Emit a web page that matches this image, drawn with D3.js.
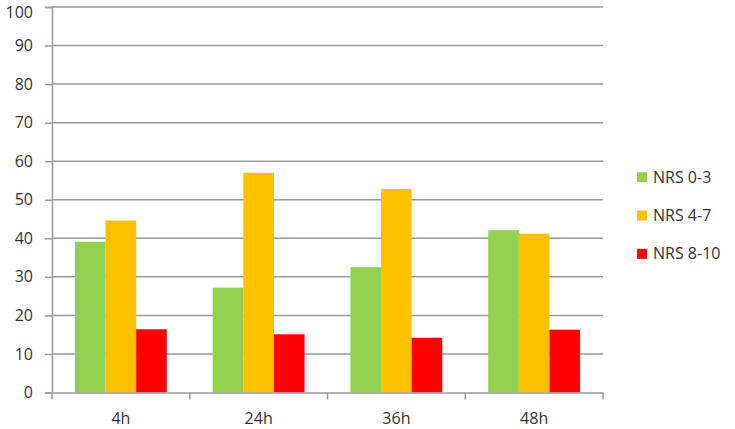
<!DOCTYPE html>
<html>
<head>
<meta charset="utf-8">
<script src="https://cdn.jsdelivr.net/npm/d3@7"></script>
<style>
  html, body { margin: 0; padding: 0; background: #fff; }
  svg { display: block; }
  text { font-family: "Open Sans", "DejaVu Sans", sans-serif; fill: #333; }
</style>
</head>
<body>
<svg id="chart" width="735" height="429"></svg>
<script>
const categories = ["4h", "24h", "36h", "48h"];
const seriesNames = ["NRS 0-3", "NRS 4-7", "NRS 8-10"];
const nrs03 = [39.1, 27.2, 32.5, 42.1];
const nrs47 = [44.6, 57.0, 52.8, 41.2];
const nrs810 = [16.4, 15.1, 14.2, 16.3];
const colors = ["#92D050", "#FFC000", "#FF0000"];
const yTicks = [0, 10, 20, 30, 40, 50, 60, 70, 80, 90, 100];

const seriesValues = [nrs03, nrs47, nrs810];

(function () {
const svg = d3.select("#chart");
const mLeft = 52, mRight = 603, mTop = 7, mBottom = 392.5;
const fs = 16, txt = "#333";

const x = d3.scaleBand().domain(categories).range([mLeft, mRight]).paddingInner(0).paddingOuter(0);
const y = d3.scaleLinear().domain([0, 100]).range([mBottom, mTop]);

// gridlines
svg.append("g").selectAll("line").data(yTicks.filter(d => d > 0)).join("line")
  .attr("x1", mLeft).attr("x2", mRight)
  .attr("y1", d => y(d)).attr("y2", d => y(d))
  .attr("stroke", "#9a9a9a").attr("stroke-width", 1.5);

// bars
const bw = x.bandwidth() / 4.5;
const gap = (x.bandwidth() - 3 * bw) / 2;
const inner = d3.scaleBand().domain(d3.range(3)).range([0, 3 * bw]);

categories.forEach((c, ci) => {
  seriesValues.forEach((vals, si) => {
    svg.append("rect")
      .attr("x", x(c) + gap + inner(si))
      .attr("y", y(vals[ci]))
      .attr("width", inner.bandwidth())
      .attr("height", y(0) - y(vals[ci]))
      .attr("fill", colors[si]);
  });
});

// y axis
const yAxis = d3.axisLeft(y).tickValues(yTicks).tickSize(7).tickPadding(12);
const gy = svg.append("g").attr("transform", `translate(${mLeft},0)`).call(yAxis);
gy.select(".domain").attr("stroke", "#9a9a9a").attr("stroke-width", 1.5);
gy.selectAll(".tick line").attr("stroke", "#9a9a9a").attr("stroke-width", 1.5);
gy.selectAll(".tick text").attr("font-size", fs).attr("font-family", "Open Sans, sans-serif").attr("fill", txt);
gy.selectAll(".tick text").filter(d => d === 100).attr("dy", "0.63em");

// x axis
const xAxis = d3.axisBottom(x).tickSize(0).tickPadding(20);
const gx = svg.append("g").attr("transform", `translate(0,${mBottom})`).call(xAxis);
gx.select(".domain").attr("stroke", "#9a9a9a").attr("stroke-width", 1.5);
gx.selectAll(".tick text").attr("font-size", fs).attr("font-family", "Open Sans, sans-serif").attr("fill", txt);
const bounds = categories.map(c => x(c)).concat([mRight]);
gx.append("g").selectAll("line").data(bounds).join("line")
  .attr("x1", d => d).attr("x2", d => d)
  .attr("y1", 0).attr("y2", 7)
  .attr("stroke", "#9a9a9a").attr("stroke-width", 1.5);

// legend
const legend = svg.append("g");
const ly = d3.scaleBand().domain(seriesNames).range([158, 273]);
seriesNames.forEach((n, i) => {
  const cy = ly(n) + ly.bandwidth() / 2;
  legend.append("rect").attr("x", 637).attr("y", cy - 5).attr("width", 10).attr("height", 10).attr("fill", colors[i]);
  legend.append("text").attr("x", 653).attr("y", cy).attr("dy", "0.35em")
    .attr("font-size", fs).attr("fill", txt).text(n);
});
})();
</script>
</body>
</html>
